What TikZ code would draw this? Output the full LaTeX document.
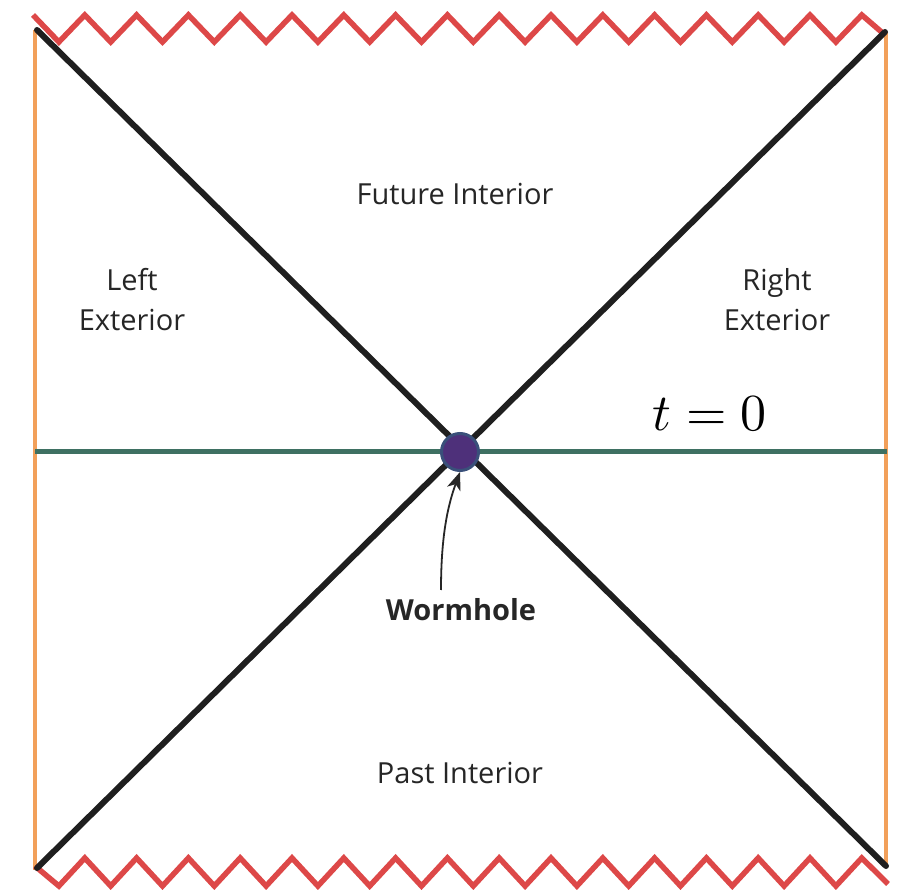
\documentclass[tikz,border=0pt]{standalone}
\usepackage{fontspec}
\setmainfont{Open Sans}
\usetikzlibrary{arrows.meta}
\definecolor{zig}{RGB}{221,72,72}
\definecolor{edgeor}{RGB}{242,160,90}
\definecolor{horiz}{RGB}{62,112,98}
\definecolor{dotfill}{RGB}{78,48,122}
\definecolor{dotedge}{RGB}{58,80,122}
\tikzset{
  lbl/.style={font=\fontsize{29}{40}\selectfont, align=center, text=black!85},
  singular/.style={draw=zig, line width=5.5pt, line join=miter},
  boundary/.style={draw=edgeor, line width=3.5pt},
  horizon/.style={draw=black!88, line width=6pt, line cap=round},
  slice/.style={draw=horiz, line width=5pt},
}
\begin{document}
\begin{tikzpicture}[x=1pt,y=-1pt]
\useasboundingbox[fill=white] (0,0) rectangle (898,890);
% corners
\coordinate (TL) at (37,30);
\coordinate (TR) at (885,32);
\coordinate (BL) at (37,868);
\coordinate (BR) at (886,866);
\coordinate (SL) at (35,452);
\coordinate (SR) at (887,452);
% boundaries
\draw[boundary] (35,30) -- (35,870);
\draw[boundary] (886,32) -- (886,866);
% singularities
\draw[singular] (33,15) \foreach \k in {0,...,15} { -- ({58.9+51.8*\k},42) -- ({84.8+51.8*\k},15) } -- (885,35);
\draw[singular] (35,866) \foreach \k in {0,...,15} { -- ({58.9+51.8*\k},886) -- ({84.8+51.8*\k},858) } -- (888,884);
% t=0 slice
\draw[slice] (SL) -- (SR);
% horizons
\draw[horizon] (TL) -- (BR);
\draw[horizon] (TR) -- (BL);
% wormhole dot
\node[circle, fill=dotfill, draw=dotedge, line width=3pt, minimum size=37pt, inner sep=0pt] (dot) at (460,452) {};
% labels
\node[lbl] (fut) at (455,194) {Future Interior};
\node[lbl] (left) at (132,300) {Left\\Exterior};
\node[lbl] (right) at (777,300) {Right\\Exterior};
\node[lbl] (past) at (460,773) {Past Interior};
\node[lbl, font=\fontsize{29}{30}\selectfont\bfseries] (worm) at (461,610) {Wormhole};
\node (t0) at (710,414) {\scalebox{5.2}{$t=0$}};
\draw[-{Stealth[length=18pt,width=14pt,inset=5pt]}, line width=1.8pt, black!85] (441,590) .. controls (441,535) and (448,505) .. (dot.south);
\end{tikzpicture}
\end{document}
